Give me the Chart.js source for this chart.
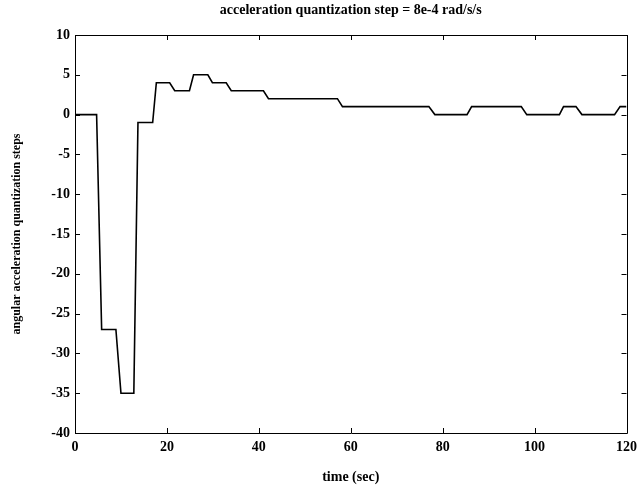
<!DOCTYPE html>
<html>
<head>
<meta charset="utf-8">
<script src="https://cdn.jsdelivr.net/npm/chart.js@4/dist/chart.umd.min.js"></script>
<style>
  html, body { margin: 0; padding: 0; background: #fff; }
  canvas { display: block; }
</style>
</head>
<body>
<canvas id="accelChart" width="643" height="490"></canvas>
<script>
// time samples (sec) and the quantized acceleration steps
const times = [0, 4.7, 5.8, 8.9, 10, 12.8, 13.7, 16.9, 17.7, 20.6, 21.7, 24.9, 25.8, 28.9, 29.9, 32.9, 34, 41, 42.1, 57.1, 58.2, 77, 78.3, 85.3, 86.3, 97.1, 98.3, 105.4, 106.3, 109, 110.3, 117.4, 118.6, 120];
const steps = [0, 0, -27, -27, -35, -35, -1, -1, 4, 4, 3, 3, 5, 5, 4, 4, 3, 3, 2, 2, 1, 1, 0, 0, 1, 1, 0, 0, 1, 1, 0, 0, 1, 1];
const xTicks = [0, 20, 40, 60, 80, 100, 120];
const yTicks = [-40, -35, -30, -25, -20, -15, -10, -5, 0, 5, 10];

const serif = '"Liberation Serif", "DejaVu Serif", serif';

// matlab style box with inward ticks on all four sides
const boxTicks = {
    id: 'boxTicks',
    afterDraw(chart) {
        const c = chart.ctx;
        const a = chart.chartArea;
        const sx = chart.scales.x, sy = chart.scales.y;
        const len = 5;
        c.save();
        c.strokeStyle = '#000';
        c.lineWidth = 1;
        c.beginPath();
        c.rect(Math.round(a.left) + 0.5, Math.round(a.top) + 0.5,
            Math.round(a.right - a.left), Math.round(a.bottom - a.top));
        xTicks.forEach(v => {
            const px = Math.round(sx.getPixelForValue(v)) + 0.5;
            c.moveTo(px, a.bottom); c.lineTo(px, a.bottom - len);
            c.moveTo(px, a.top); c.lineTo(px, a.top + len);
        });
        yTicks.forEach(v => {
            const py = Math.round(sy.getPixelForValue(v)) + 0.5;
            c.moveTo(a.left, py); c.lineTo(a.left + len, py);
            c.moveTo(a.right, py); c.lineTo(a.right - len, py);
        });
        c.stroke();
        c.restore();
    }
};

new Chart(document.getElementById('accelChart'), {
    type: 'line',
    data: {
        datasets: [{
            data: times.map((t, i) => ({ x: t, y: steps[i] })),
            borderColor: '#000',
            borderWidth: 1.6,
            pointRadius: 0,
            tension: 0,
            fill: false
        }]
    },
    options: {
        responsive: false,
        animation: false,
        layout: { padding: { left: 0, right: 16, top: 0, bottom: 0 } },
        scales: {
            x: {
                type: 'linear',
                min: 0,
                max: 120,
                afterBuildTicks: s => { s.ticks = xTicks.map(v => ({ value: v })); },
                afterFit: s => { s.height = 57; },
                grid: { display: false, drawTicks: false, tickLength: 0 },
                border: { display: false },
                ticks: {
                    padding: 6,
                    maxRotation: 0,
                    color: '#000',
                    font: { family: serif, size: 14, weight: 'bold' }
                },
                title: {
                    display: true,
                    text: 'time (sec)',
                    color: '#000',
                    padding: { top: 0, bottom: 4 },
                    font: { family: serif, size: 14, weight: 'bold' }
                }
            },
            // top axis only carries the plot title, centred over the plot box
            xTop: {
                type: 'linear',
                position: 'top',
                min: 0,
                max: 120,
                afterFit: s => { s.height = 35; },
                grid: { display: false, drawTicks: false },
                border: { display: false },
                ticks: { display: false },
                title: {
                    display: true,
                    text: 'acceleration quantization step = 8e-4 rad/s/s',
                    color: '#000',
                    padding: { top: 2, bottom: 0 },
                    font: { family: serif, size: 14, weight: 'bold' }
                }
            },
            y: {
                min: -40,
                max: 10,
                afterBuildTicks: s => { s.ticks = yTicks.map(v => ({ value: v })); },
                afterFit: s => { s.width = 75; },
                grid: { display: false, drawTicks: false, tickLength: 0 },
                border: { display: false },
                ticks: {
                    padding: 5,
                    color: '#000',
                    font: { family: serif, size: 14, weight: 'bold' }
                },
                title: {
                    display: true,
                    text: 'angular acceleration quantization steps',
                    color: '#000',
                    padding: { top: 10, bottom: 0 },
                    font: { family: serif, size: 12, weight: 'bold' }
                }
            }
        },
        plugins: {
            legend: { display: false },
            tooltip: { enabled: false },
            title: { display: false }
        }
    },
    plugins: [boxTicks]
});
</script>
</body>
</html>
